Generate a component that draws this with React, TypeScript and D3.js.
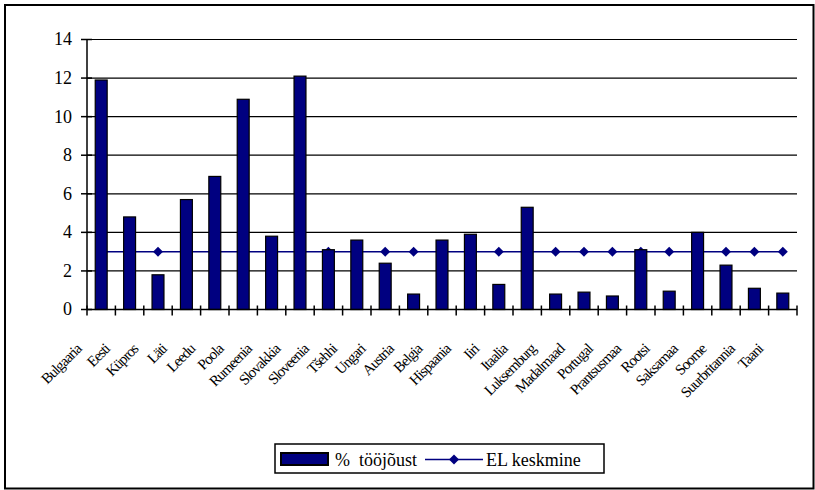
import React from "react";
import * as d3 from "d3";

const categories = [
  "Bulgaaria", "Eesti", "Küpros", "Läti", "Leedu", "Poola", "Rumeenia", "Slovakkia",
  "Sloveenia", "Tšehhi", "Ungari", "Austria", "Belgia", "Hispaania", "Iiri", "Itaalia",
  "Luksemburg", "Madalmaad", "Portugal", "Prantsusmaa", "Rootsi", "Saksamaa", "Soome",
  "Suurbritannia", "Taani",
];
const barValues = [
  11.9, 4.8, 1.8, 5.7, 6.9, 10.9, 3.8, 12.1, 3.1, 3.6, 2.4, 0.8, 3.6, 3.9, 1.3, 5.3,
  0.8, 0.9, 0.7, 3.1, 0.95, 4.0, 2.3, 1.1, 0.85,
];
const euAverage = [
  3, 3, 3, 3, 3, 3, 3, 3, 3, 3, 3, 3, 3, 3, 3, 3, 3, 3, 3, 3, 3, 3, 3, 3, 3,
];
const yTicks = [0, 2, 4, 6, 8, 10, 12, 14];
const barSeriesName = "%  tööjõust";
const lineSeriesName = "EL keskmine";

const W = 815;
const H = 490;
const plot = { left: 87, right: 797, top: 39.5, bottom: 309.5 };
const NAVY = "#000080";
const FONT = "Liberation Serif";
const txt = { fontFamily: FONT };

export default function App() {
  const x = d3.scaleBand<string>().domain(categories).range([plot.left, plot.right]).padding(0);
  const y = d3.scaleLinear().domain([0, 14]).range([plot.bottom, plot.top]);
  const step = x.step();
  const barW = step * 0.42;
  const cx = (c: string) => (x(c) as number) + step / 2;

  const line = d3
    .line<number>()
    .x((_, i) => cx(categories[i]))
    .y((d) => y(d));

  const diamond = (px: number, py: number, r = 5) =>
    `M${px},${py - r}L${px + r},${py}L${px},${py + r}L${px - r},${py}Z`;

  const boundaries = d3.range(categories.length + 1).map((i) => plot.left + i * step);

  return (
    <svg
      width={W}
      height={H}
      style={{ position: "absolute", left: 0, top: 0, background: "#fff" }}
    >
      <rect x={0} y={0} width={W} height={H} fill="#fff" />
      <rect x={5} y={5} width={808.5} height={483.5} fill="none" stroke="#000" strokeWidth={2} />

      {yTicks.filter((t) => t > 0).map((t) => (
        <line key={t} x1={plot.left} x2={plot.right} y1={y(t)} y2={y(t)} stroke="#000" strokeWidth={1.2} />
      ))}

      <path d={line(euAverage) || ""} fill="none" stroke={NAVY} strokeWidth={1.5} />
      {euAverage.map((v, i) => (
        <path key={i} d={diamond(cx(categories[i]), y(v))} fill={NAVY} />
      ))}

      {barValues.map((v, i) => (
        <rect
          key={categories[i]}
          x={cx(categories[i]) - barW / 2}
          y={y(v)}
          width={barW}
          height={y(0) - y(v)}
          fill={NAVY}
          stroke="#000"
          strokeWidth={1.2}
        />
      ))}

      <line x1={plot.left} x2={plot.left} y1={plot.top} y2={plot.bottom} stroke="#000" strokeWidth={1.5} />
      <line x1={plot.left} x2={plot.right} y1={plot.bottom} y2={plot.bottom} stroke="#000" strokeWidth={1.5} />
      {yTicks.map((t) => (
        <g key={t}>
          <line x1={plot.left - 6} x2={plot.left + 5} y1={y(t)} y2={y(t)} stroke="#000" strokeWidth={1.5} />
          <text x={72} y={y(t)} dy="0.33em" textAnchor="end" fontSize={18} style={txt}>
            {t}
          </text>
        </g>
      ))}
      {boundaries.map((bx, i) => (
        <line key={i} x1={bx} x2={bx} y1={plot.bottom - 4} y2={plot.bottom + 6} stroke="#000" strokeWidth={1.5} />
      ))}

      {categories.map((c) => (
        <text
          key={c}
          transform={`translate(${cx(c) - 19},${350}) rotate(-45)`}
          textAnchor="end"
          fontSize={15}
          letterSpacing={-1}
          style={txt}
        >
          {c}
        </text>
      ))}

      <rect x={275} y={444} width={329} height={29} fill="#fff" stroke="#000" strokeWidth={1.5} />
      <rect x={281} y={453} width={47} height={12} fill={NAVY} stroke="#000" strokeWidth={2} />
      <text x={335} y={466} fontSize={18} style={{ ...txt, whiteSpace: "pre" }}>
        {barSeriesName}
      </text>
      <line x1={425} x2={483} y1={459.5} y2={459.5} stroke={NAVY} strokeWidth={1.5} />
      <path d={diamond(454, 459.5, 5)} fill={NAVY} />
      <text x={486} y={466} fontSize={18} style={txt}>
        {lineSeriesName}
      </text>
    </svg>
  );
}
